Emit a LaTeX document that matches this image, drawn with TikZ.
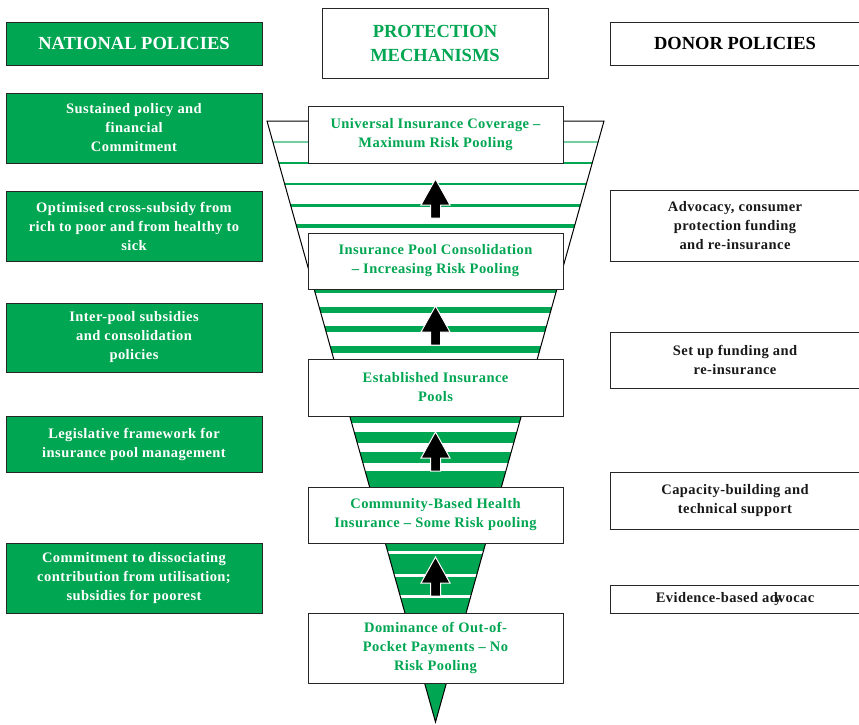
\documentclass[tikz,border=0pt]{standalone}
\usepackage{fontspec}
\setmainfont{Liberation Serif}
\newfontfamily\bodyfont{Liberation Serif}[LetterSpace=3]
\definecolor{pgreen}{RGB}{0,166,81}
\begin{document}
\begin{tikzpicture}[x=1pt,y=-1pt,
  box/.style={draw=black!85,line width=0.9pt,fill=white,inner sep=2pt,align=center,
    font=\bodyfont\bfseries\fontsize{14.5}{19}\selectfont},
  natbox/.style={box,fill=pgreen,text=white,minimum width=256pt},
  donbox/.style={box,text=black!90,minimum width=250pt},
  mechbox/.style={box,text=pgreen,minimum width=255pt},
  headfont/.style={font=\bfseries\fontsize{18.5}{24}\selectfont},
  blockarrow/.style={fill=black,draw=white,line width=1pt,line join=miter}]
\useasboundingbox (0,0) rectangle (859,724);
% funnel
\coordinate (tl) at (267,121);
\coordinate (tr) at (604,121);
\coordinate (ap) at (435.5,722);
\fill[white] (tl)--(tr)--(ap)--cycle;
\begin{scope}
\clip (tl)--(tr)--(ap)--cycle;
\draw[pgreen!55,line width=1.5pt] (260,142)--(610,142);
\foreach \y/\w in {163/2,184/2.5,205/3,226/4}{\draw[pgreen,line width=\w pt] (260,\y)--(610,\y);}
\foreach \a/\b in {289/293,307/313,326/332,346/353,416/423,432/443,452/463,471/487}{\fill[pgreen] (260,\a) rectangle (610,\b);}
\fill[pgreen] (260,543) rectangle (610,613);
\foreach \y in {552,575.5,596}{\draw[white,line width=3pt] (260,\y)--(610,\y);}
\fill[pgreen] (260,683) rectangle (610,726);
\end{scope}
\draw[black,line width=1pt,line join=miter] (tl)--(tr)--(ap)--cycle;
% headers
\node[natbox,headfont,minimum height=43pt] (nat) at (134,43.5) {NATIONAL POLICIES};
\node[box,headfont,text=pgreen,minimum width=226pt,minimum height=70pt] (mech) at (435,43) {PROTECTION\\MECHANISMS};
\node[donbox,headfont,text=black,minimum height=43pt] (don) at (735,43.5) {DONOR POLICIES};
% national policies
\node[natbox,minimum height=70pt] (n1) at (134,128) {Sustained policy and\\financial\\Commitment};
\node[natbox,minimum height=70pt] (n2) at (134,226) {Optimised cross-subsidy from\\rich to poor and from healthy to\\sick};
\node[natbox,minimum height=69pt] (n3) at (134,337.5) {Inter-pool subsidies\\and consolidation\\policies};
\node[natbox,minimum height=56pt] (n4) at (134,444) {Legislative framework for\\insurance pool management};
\node[natbox,minimum height=70pt] (n5) at (134,578) {Commitment to dissociating\\contribution from utilisation;\\subsidies for poorest};
% donor policies
\node[donbox,minimum height=71pt] (d1) at (735,225.5) {Advocacy, consumer\\protection funding\\and re-insurance};
\node[donbox,minimum height=56pt] (d2) at (735,360) {Set up funding and\\re-insurance};
\node[donbox,minimum height=57pt] (d3) at (735,500.5) {Capacity-building and\\technical support};
\node[donbox,minimum height=28pt] (d4) at (735,599) {Evidence-based ad\makebox[0pt]{y}vocac};
% mechanisms
\node[mechbox,minimum height=57pt] (m1) at (435.5,134.5) {Universal Insurance Coverage –\\Maximum Risk Pooling};
\node[mechbox,minimum height=56pt] (m2) at (435.5,261) {Insurance Pool Consolidation\\– Increasing Risk Pooling};
\node[mechbox,minimum height=57pt] (m3) at (435.5,387.5) {Established Insurance\\Pools};
\node[mechbox,minimum height=56pt] (m4) at (435.5,515) {Community-Based Health\\Insurance – Some Risk pooling};
\node[mechbox,minimum height=70pt] (m5) at (435.5,648) {Dominance of Out-of-\\Pocket Payments – No\\Risk Pooling};
% arrows
\coordinate (a1) at (435.5,179);
\coordinate (a2) at (435.5,306);
\coordinate (a3) at (435.5,432);
\coordinate (a4) at (435.5,557);
\foreach \t in {a1,a2,a3,a4}{
  \draw[blockarrow] (\t) -- ++(14.5,26) -- ++(-9.5,0) -- ++(0,13) -- ++(-10,0) -- ++(0,-13) -- ++(-9.5,0) -- cycle;}
\end{tikzpicture}
\end{document}
